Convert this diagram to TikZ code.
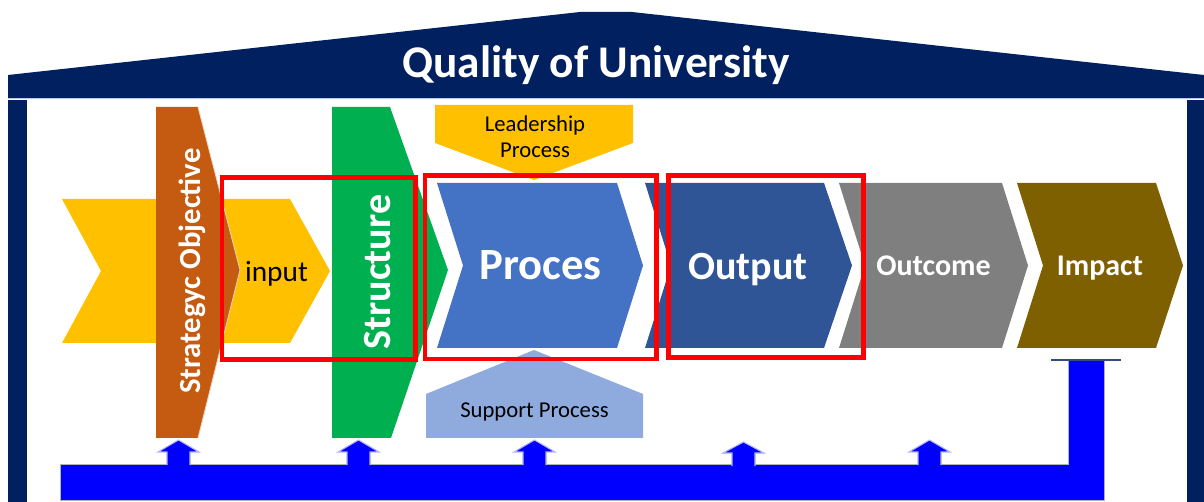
\documentclass[tikz,border=0pt]{standalone}
\usepackage{fontspec}
\setmainfont{Carlito}
\usepackage{tikz}
\usepackage{color}

\definecolor{roofnavy}{RGB}{0,32,96}
\definecolor{edgeblue}{RGB}{180,199,231}
\definecolor{goldyellow}{RGB}{255,192,0}
\definecolor{rustorange}{RGB}{197,90,17}
\definecolor{leafgreen}{RGB}{0,176,80}
\definecolor{procblue}{RGB}{68,114,196}
\definecolor{outblue}{RGB}{47,85,151}
\definecolor{midgray}{RGB}{127,127,127}
\definecolor{olivebrown}{RGB}{127,96,0}
\definecolor{paleblue}{RGB}{143,170,220}
\definecolor{feedblue}{RGB}{0,0,255}
\definecolor{markred}{RGB}{255,0,0}

\tikzset{
  mark box/.style={draw=markred, line width=3.2},
  up arrow/.style={fill=feedblue, draw=white!70!feedblue, line width=0.8},
  big label/.style={text=white, font=\bfseries},
  small label/.style={text=black}
}

\begin{document}
\begin{tikzpicture}[x=0.75pt,y=0.75pt,yscale=-1,xscale=1]
\useasboundingbox (0,0) rectangle (1204,502);

% Roof
\fill [roofnavy] (8,75) -- (580,12) -- (632,12) -- (1204,75) -- (1204,98) -- (8,98) -- cycle ;
\draw [edgeblue, line width=0.8] (8,98.5) -- (1204,98.5) ;
% Walls
\fill [roofnavy] (8,100) rectangle (27,502) ;
\fill [roofnavy] (1187,100) rectangle (1204,502) ;

% Shape: Input Chevron
\fill [goldyellow] (62,199) -- (290,199) -- (330,271) -- (290,343) -- (62,343) -- (101,271) -- cycle ;
% Shape: Strategy Bar
\fill [rustorange] (156,107) -- (198,107) -- (240,270) -- (198,438) -- (156,438) -- cycle ;
\draw [white!75!rustorange, line width=0.6] (198,107) -- (240,270) -- (198,438) ;
% Shape: Structure Bar
\fill [leafgreen] (332,107) -- (390,107) -- (448,270) -- (391,438) -- (332,438) -- cycle ;

% Shape: Leadership Pentagon
\fill [goldyellow] (435,105) -- (633,105) -- (633,143) -- (534,180) -- (435,143) -- cycle ;
% Shape: Support Pentagon
\fill [paleblue] (426,438) -- (426,394) -- (534,350) -- (643,394) -- (643,438) -- cycle ;

% Shape: Proces Chevron
\fill [procblue] (437,183) -- (617,183) -- (643,265.5) -- (617,348) -- (437,348) -- (463,265.5) -- cycle ;
% Shape: Output Chevron
\fill [outblue] (645,183) -- (824,183) -- (852,265.5) -- (824,348) -- (645,348) -- (671,265.5) -- cycle ;
% Shape: Outcome Chevron
\fill [midgray] (839,183) -- (1002,183) -- (1028,265.5) -- (1002,348) -- (839,348) -- (865,265.5) -- cycle ;
% Shape: Impact Chevron
\fill [olivebrown] (1017,183) -- (1156,183) -- (1183,265.5) -- (1156,348) -- (1017,348) -- (1043,265.5) -- cycle ;

% Red Frames
\draw [mark box] (222,177.5) rectangle (415.5,359.5) ;
\draw [mark box] (425,175.5) rectangle (656.5,359) ;
\draw [mark box] (668.5,175.5) rectangle (863.5,357.5) ;

% Feedback Bar
\fill [feedblue, draw=gray!60, line width=0.6] (60,464) -- (1068,464) -- (1068,360) -- (1104,360) -- (1104,500) -- (60,500) -- cycle ;
\draw [roofnavy!80, line width=1.5] (1051,360) -- (1121,360) ;
% Up Arrows
\draw [up arrow] (167,465) -- (167,452) -- (158,452) -- (178.5,440) -- (199,452) -- (190,452) -- (190,465) ;
\draw [up arrow] (347,465) -- (347,452) -- (338,452) -- (358.5,440) -- (379,452) -- (370,452) -- (370,465) ;
\draw [up arrow] (523,465) -- (523,452) -- (514,452) -- (534.5,440) -- (555,452) -- (546,452) -- (546,465) ;
\draw [up arrow] (732,466) -- (732,453) -- (723,453) -- (743.5,442) -- (764,453) -- (755,453) -- (755,466) ;
\draw [up arrow] (918,465) -- (918,452) -- (909,452) -- (929.5,440) -- (950,452) -- (941,452) -- (941,465) ;

% Text Node
\draw (596,78) node (title) [anchor=base, big label, font=\fontsize{34}{40}\selectfont\bfseries] {Quality of University} ;
% Text Node
\draw (200,271) node (strategy) [anchor=base, rotate=90, big label, font=\fontsize{23}{28}\selectfont\bfseries] {Strategyc Objective} ;
% Text Node
\draw (390,272) node (structure) [anchor=base, rotate=90, big label, font=\fontsize{30}{36}\selectfont\bfseries] {Structure} ;
% Text Node
\draw (276.5,282) node (input) [anchor=base, small label, font=\fontsize{22}{26}\selectfont] {input} ;
% Text Node
\draw (540.5,280) node (proces) [anchor=base, big label, font=\fontsize{33.5}{40}\selectfont\bfseries] {Proces} ;
% Text Node
\draw (748,280) node (output) [anchor=base, big label, font=\fontsize{30}{36}\selectfont\bfseries] {Output} ;
% Text Node
\draw (933.5,276) node (outcome) [anchor=base, big label, font=\fontsize{22.5}{27}\selectfont\bfseries] {Outcome} ;
% Text Node
\draw (1100,276) node (impact) [anchor=base, big label, font=\fontsize{22.5}{27}\selectfont\bfseries] {Impact} ;
% Text Node
\draw (535,132) node (leadership) [anchor=base, small label, font=\fontsize{17}{20}\selectfont] {Leadership} ;
% Text Node
\draw (535,158) node (leadproc) [anchor=base, small label, font=\fontsize{17}{20}\selectfont] {Process} ;
% Text Node
\draw (534.5,417) node (support) [anchor=base, small label, font=\fontsize{17}{20}\selectfont] {Support Process} ;

\end{tikzpicture}
\end{document}
